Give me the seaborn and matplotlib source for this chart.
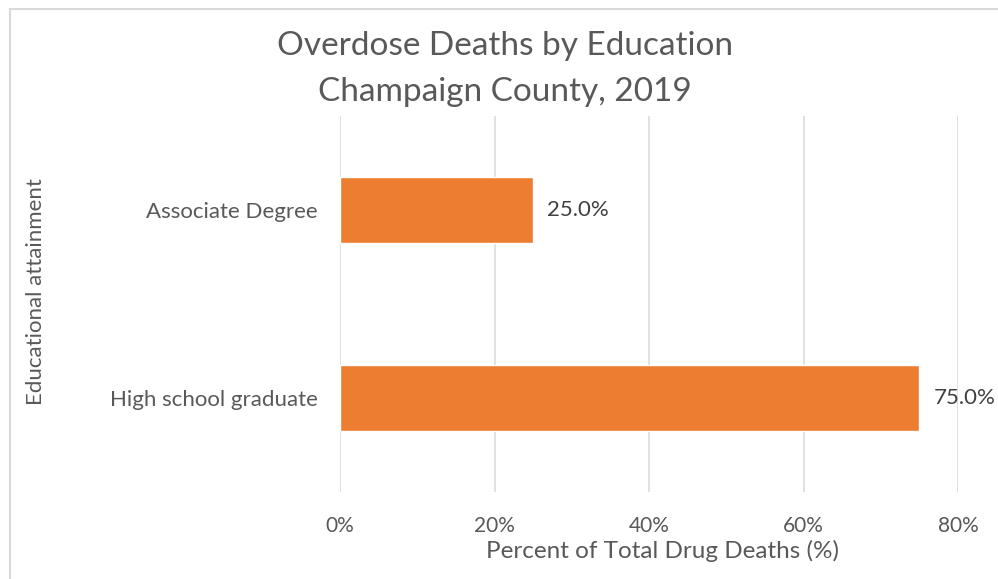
import numpy as np
import pandas as pd
import seaborn as sns
import matplotlib.pyplot as plt
from matplotlib.patches import Rectangle
from matplotlib.ticker import FuncFormatter

# Data
education = ["Associate Degree", "High school graduate"]
pct_deaths = [25.0, 75.0]
x_ticks = [0, 20, 40, 60, 80]

df = pd.DataFrame({"education": education, "pct": pct_deaths})

sns.set_theme(style="white")
plt.rcParams['font.family'] = ['Lato', 'DejaVu Sans']

text_grey = "#595959"
grid_grey = "#D9D9D9"

fig = plt.figure(figsize=(9.98, 5.79), dpi=100)
ax = fig.add_axes([340 / 998, 1 - 492 / 579, (958 - 340) / 998, (492 - 116) / 579])

sns.barplot(data=df, x="pct", y="education", orient="h", color="#ED7D31",
            width=0.355, saturation=1, ax=ax)

ax.set_xlim(0, 80)
ax.set_ylim(1.5, -0.5)
ax.set_xticks(x_ticks)
ax.xaxis.set_major_formatter(FuncFormatter(lambda v, _: f"{v:.0f}%"))
ax.grid(axis="x", color=grid_grey, linewidth=1.1)
ax.set_axisbelow(True)
for s in ax.spines.values():
    s.set_visible(False)

ax.tick_params(axis="x", length=0, pad=17, labelsize=15, labelcolor=text_grey)
ax.tick_params(axis="y", length=0, pad=16, labelsize=16, labelcolor=text_grey)
ax.set_xlabel("Percent of Total Drug Deaths (%)", fontsize=17.5, color=text_grey)
ax.xaxis.set_label_coords((663 - 340) / 618, -0.128)
ax.set_ylabel("")

for c in ax.containers:
    ax.bar_label(c, fmt="%.1f%%", padding=10, fontsize=16, color="#404040")

fig.text(36 / 998, 1 - 292 / 579, "Educational attainment", rotation=90,
         ha="center", va="center", fontsize=16, color=text_grey)
fig.text(505 / 998, 1 - 69 / 579, "Overdose Deaths by Education\nChampaign County, 2019",
         ha="center", va="center", fontsize=24, color=text_grey, linespacing=1.7)

# chart frame
fig.add_artist(Rectangle((10 / 998, -0.5), 2, 0.5 + 1 - 9 / 579, transform=fig.transFigure,
                         fill=False, edgecolor=grid_grey, linewidth=1.5))

fig.savefig("out.png", dpi=100)
